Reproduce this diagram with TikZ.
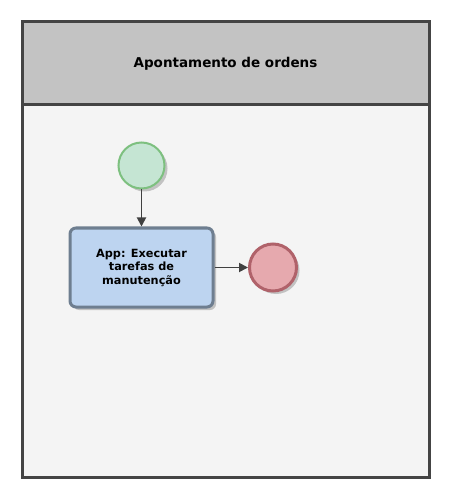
\documentclass[tikz,border=0pt]{standalone}
\usepackage{fontspec}
\setmainfont{DejaVu Sans}
\usetikzlibrary{arrows.meta,shadows}
\definecolor{frameline}{HTML}{444444}
\definecolor{headfill}{HTML}{C3C3C3}
\definecolor{bodyfill}{HTML}{F4F4F4}
\definecolor{startfill}{HTML}{C5E5D3}
\definecolor{startline}{HTML}{7DC07F}
\definecolor{taskfill}{HTML}{BDD4F0}
\definecolor{taskline}{HTML}{6E7E90}
\definecolor{endfill}{HTML}{E6A9AE}
\definecolor{endline}{HTML}{B0626A}
\definecolor{arrowc}{HTML}{404040}
\tikzset{
  lanebox/.style={draw=frameline, line width=3pt},
  evshadow/.style={drop shadow={shadow xshift=3pt, shadow yshift=-3pt, fill=black!40, opacity=0.55}},
  startev/.style={circle, draw=startline, fill=startfill, line width=2pt, minimum size=46pt, inner sep=0pt, evshadow},
  endev/.style={circle, draw=endline, fill=endfill, line width=3pt, minimum size=47pt, inner sep=0pt, evshadow},
  taskbox/.style={rectangle, rounded corners=6pt, draw=taskline, fill=taskfill, line width=3pt, minimum width=143pt, minimum height=79pt, align=center, font=\bfseries\fontsize{11.3pt}{13.5pt}\selectfont, evshadow},
  flow/.style={draw=arrowc, line width=1.8pt, -{Triangle[length=9pt,width=9pt]}}
}
\begin{document}
\begin{tikzpicture}[x=1pt,y=-1pt]
\useasboundingbox (0,0) rectangle (462,502);
\fill[white] (0,0) rectangle (462,502);
\filldraw[lanebox, fill=bodyfill] (22,22) rectangle (429,477);
\filldraw[lanebox, fill=headfill] (22,22) rectangle (429,105);
\node[font=\bfseries\fontsize{13.5pt}{16pt}\selectfont] (title) at (225.5,63.5) {Apontamento de ordens};
\node[startev] (start) at (141.5,165.5) {};
\node[taskbox] (task) at (141.5,267.5) {App: Executar\\tarefas de\\manutenção};
\node[endev] (end) at (273,267.5) {};
\draw[flow] (start) -- (task);
\draw[flow] (task.east) -- (end.west);
\end{tikzpicture}
\end{document}
